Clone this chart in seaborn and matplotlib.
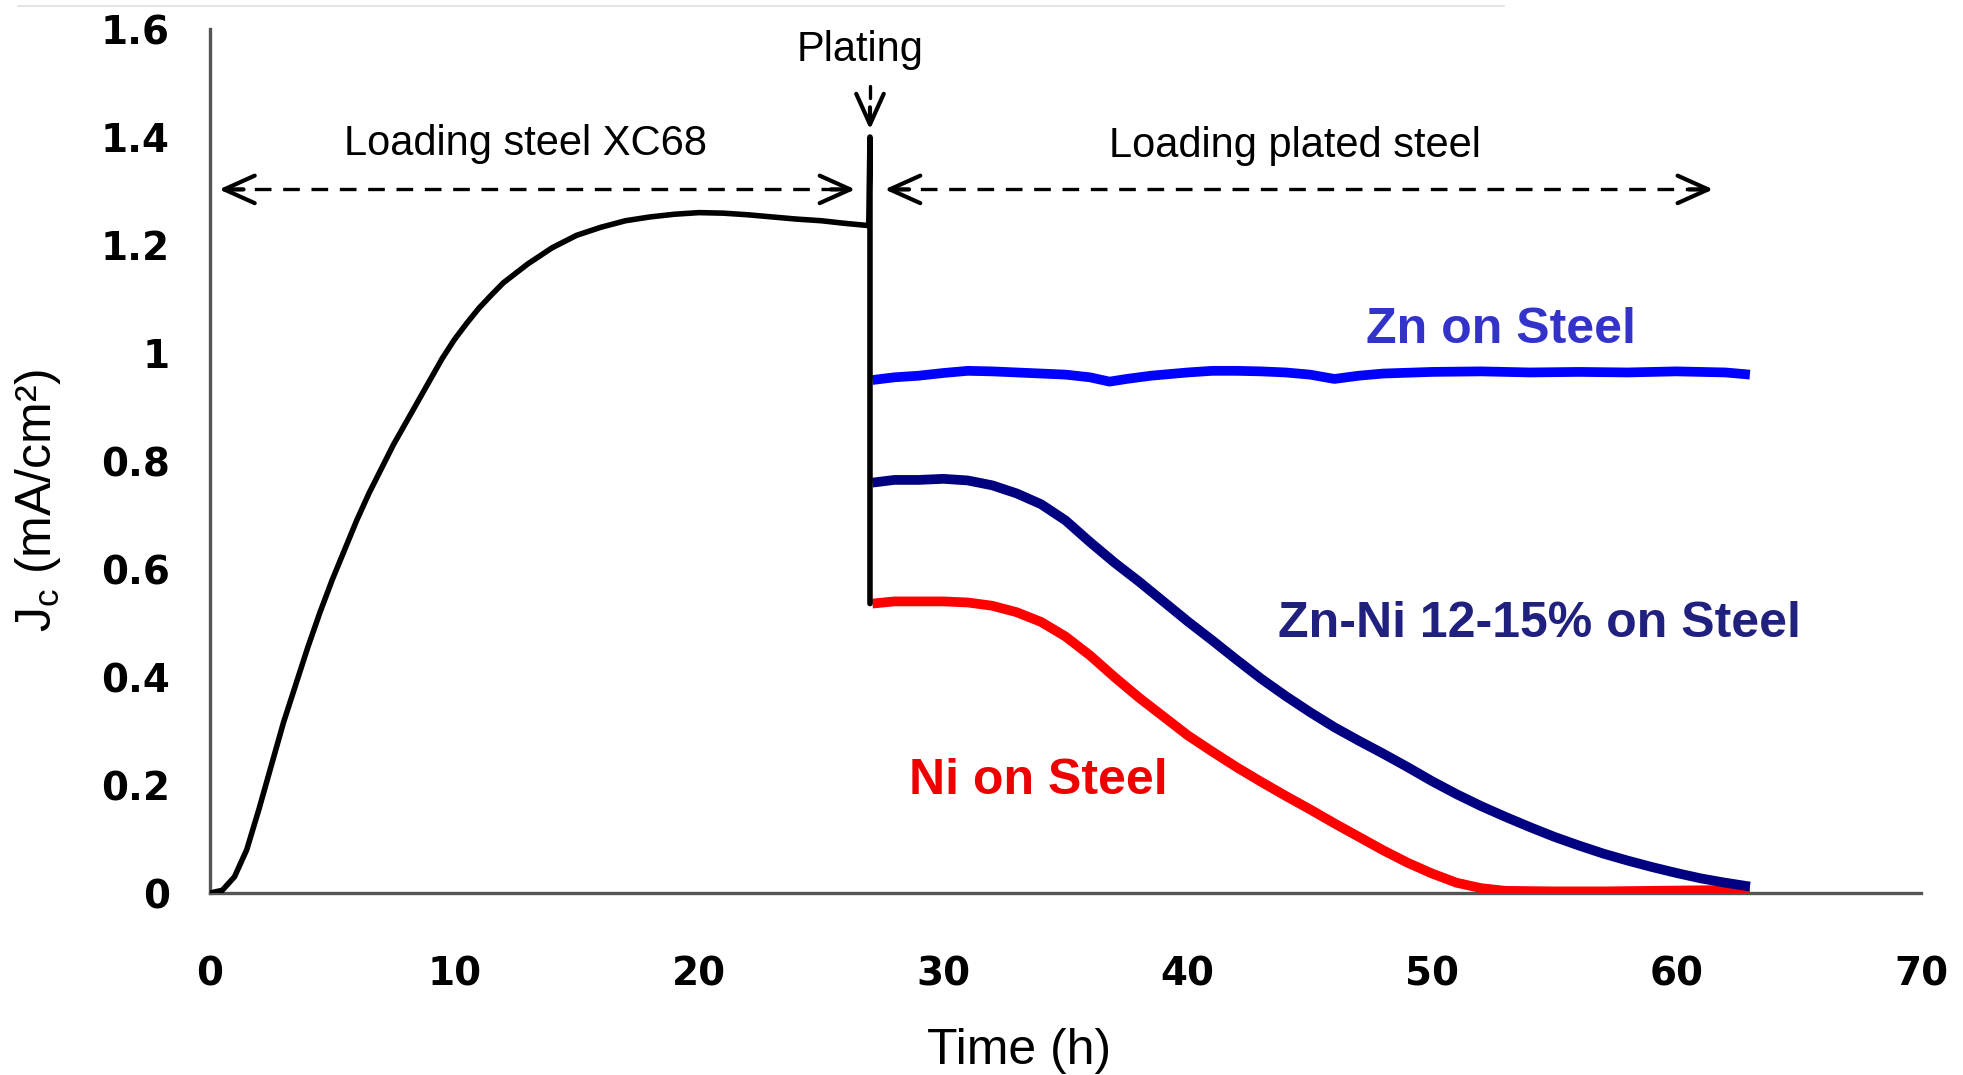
import numpy as np
import pandas as pd
import matplotlib
matplotlib.use("Agg")
import matplotlib.pyplot as plt
from matplotlib.lines import Line2D
import seaborn as sns

# ---------------- data ----------------
steel_t = [0, 0.5, 1.0, 1.5, 2.0, 2.5, 3.0, 3.5, 4.0, 4.5, 5.0, 5.5, 6.0, 6.5, 7.0, 7.5,
           8.0, 8.5, 9.0, 9.5, 10.0, 10.5, 11.0, 11.5, 12.0, 13.0, 14.0, 15.0, 16.0,
           17.0, 18.0, 19.0, 20.0, 21.0, 22.0, 23.0, 24.0, 25.0, 26.0, 26.95, 27.0, 27.0]
steel_j = [0.0, 0.005, 0.03, 0.08, 0.155, 0.235, 0.315, 0.385, 0.455, 0.52, 0.58, 0.635,
           0.69, 0.74, 0.785, 0.83, 0.87, 0.91, 0.95, 0.99, 1.025, 1.055, 1.083, 1.107,
           1.13, 1.165, 1.195, 1.218, 1.233, 1.245, 1.252, 1.257, 1.26, 1.259, 1.256,
           1.252, 1.248, 1.245, 1.24, 1.236, 1.40, 0.536]

zn_t = [27.1, 28, 29, 30, 31, 32, 33, 34, 35, 36, 36.8, 37.5, 38.5, 40, 41, 42, 43, 44,
        45, 46, 47, 48, 50, 52, 54, 56, 58, 60, 62, 63]
zn_j = [0.950, 0.955, 0.958, 0.963, 0.967, 0.966, 0.964, 0.962, 0.960, 0.955, 0.947,
        0.952, 0.958, 0.964, 0.967, 0.967, 0.966, 0.964, 0.960, 0.952, 0.958, 0.962,
        0.965, 0.966, 0.964, 0.965, 0.964, 0.966, 0.964, 0.960]

znni_t = [27.1, 28, 29, 30, 31, 32, 33, 34, 35, 36, 37, 38, 39, 40, 41, 42, 43, 44, 45,
          46, 47, 48, 49, 50, 51, 52, 53, 54, 55, 56, 57, 58, 59, 60, 61, 62, 63]
znni_j = [0.760, 0.765, 0.765, 0.767, 0.764, 0.755, 0.740, 0.720, 0.690, 0.650, 0.612,
          0.577, 0.540, 0.503, 0.468, 0.432, 0.397, 0.365, 0.335, 0.307, 0.282, 0.258,
          0.233, 0.207, 0.183, 0.161, 0.141, 0.122, 0.104, 0.088, 0.073, 0.060, 0.048,
          0.037, 0.027, 0.019, 0.012]

ni_t = [27.1, 28, 29, 30, 31, 32, 33, 34, 35, 36, 37, 38, 39, 40, 41, 42, 43, 44, 45,
        46, 47, 48, 49, 50, 51, 52, 53, 55, 57, 59, 61, 63]
ni_j = [0.536, 0.540, 0.540, 0.540, 0.538, 0.532, 0.520, 0.502, 0.475, 0.440, 0.400,
        0.362, 0.327, 0.292, 0.262, 0.233, 0.206, 0.180, 0.155, 0.129, 0.104, 0.079,
        0.056, 0.036, 0.019, 0.009, 0.004, 0.003, 0.003, 0.004, 0.005, 0.006]

x_ticks = [0, 10, 20, 30, 40, 50, 60, 70]
y_ticks = [0, 0.2, 0.4, 0.6, 0.8, 1.0, 1.2, 1.4, 1.6]

series_labels = ["Zn on Steel", "Zn-Ni 12-15% on Steel", "Ni on Steel"]
line_colors = ["#0000ff", "#000080", "#ff0000"]
text_colors = ["#3333cc", "#20207f", "#ee0000"]

# ---------------- plotting ----------------
sns.set_style("white")
plt.rcParams["font.family"] = ["Liberation Sans", "DejaVu Sans"]
plt.rcParams["text.color"] = "black"
plt.rcParams["axes.labelcolor"] = "black"

fig = plt.figure(figsize=(19.63, 10.75), dpi=100)
ax = fig.add_axes([0.107, 0.1693, 0.8716, 0.8037])

df_steel = pd.DataFrame({"t": steel_t, "j": steel_j})
sns.lineplot(data=df_steel, x="t", y="j", sort=False, estimator=None, color="black",
             lw=4, ax=ax, zorder=4)

for tt, jj, col in zip([ni_t, znni_t, zn_t], [ni_j, znni_j, zn_j],
                       [line_colors[2], line_colors[1], line_colors[0]]):
    d = pd.DataFrame({"t": tt, "j": jj})
    sns.lineplot(data=d, x="t", y="j", sort=False, estimator=None, color=col,
                 lw=7, ax=ax, zorder=3, solid_capstyle="butt")

ax.set_xlim(0, 70)
ax.set_ylim(0, 1.6)
ax.set_xticks(x_ticks)
ax.set_yticks(y_ticks)
ax.set_xticklabels([f"{v:g}" for v in x_ticks])
ax.set_yticklabels([f"{v:g}" for v in y_ticks])
for lab in ax.get_xticklabels() + ax.get_yticklabels():
    lab.set_family("DejaVu Sans")
    lab.set_fontweight("bold")
    lab.set_fontsize(28)

for s in ["top", "right"]:
    ax.spines[s].set_visible(False)
for s in ["left", "bottom"]:
    ax.spines[s].set_color("#555555")
    ax.spines[s].set_linewidth(2.4)
ax.tick_params(axis="both", direction="out", length=11, width=2, color="#555555",
               labelcolor="black")
ax.tick_params(axis="x", pad=34)
ax.tick_params(axis="y", pad=18)

ax.set_xlabel("Time (h)", fontsize=36)
ax.xaxis.label.set_va("center")
ax.xaxis.set_label_coords(0.473, -0.183)
ax.set_ylabel(r"$\mathregular{J_c}$ (mA/cm²)", fontsize=36)
ax.yaxis.label.set_va("center")
ax.yaxis.set_label_coords(-0.1005, 0.454)

# ---------------- annotations ----------------
def head(ax, tip, back):
    ax.annotate("", xy=tip, xytext=back,
                arrowprops=dict(arrowstyle="->,head_length=1.0,head_width=0.45",
                                color="black", lw=3, mutation_scale=22,
                                shrinkA=0, shrinkB=0))

def double_arrow(ax, x0, x1, y):
    ax.plot([x0 + 0.3, x1 - 0.3], [y, y], color="black", lw=2.4, dashes=(5, 3.5))
    head(ax, (x0, y), (x0 + 1.0, y))
    head(ax, (x1, y), (x1 - 1.0, y))

double_arrow(ax, 0.37, 26.4, 1.303)
double_arrow(ax, 27.6, 61.5, 1.303)

ax.plot([27.0, 27.0], [1.494, 1.472], color="black", lw=2.4)
head(ax, (27.0, 1.414), (27.0, 1.455))

ax.text(26.6, 1.562, "Plating", fontsize=30, ha="center", va="center")
ax.text(12.9, 1.387, "Loading steel XC68", fontsize=30, ha="center", va="center")
ax.text(44.4, 1.383, "Loading plated steel", fontsize=30, ha="center", va="center")

ax.text(52.8, 1.042, series_labels[0], fontsize=36, fontweight="bold",
        color=text_colors[0], ha="center", va="center")
ax.text(54.4, 0.498, series_labels[1], fontsize=36, fontweight="bold",
        color=text_colors[1], ha="center", va="center")
ax.text(33.9, 0.207, series_labels[2], fontsize=36, fontweight="bold",
        color=text_colors[2], ha="center", va="center", zorder=6,
        bbox=dict(facecolor="white", edgecolor="none", pad=8))

# faint top rule as in the source image
fig.add_artist(Line2D([0.009, 0.766], [0.9944, 0.9944], color="#e3e3e3", lw=1.5))

fig.savefig("out.png", dpi=100)
